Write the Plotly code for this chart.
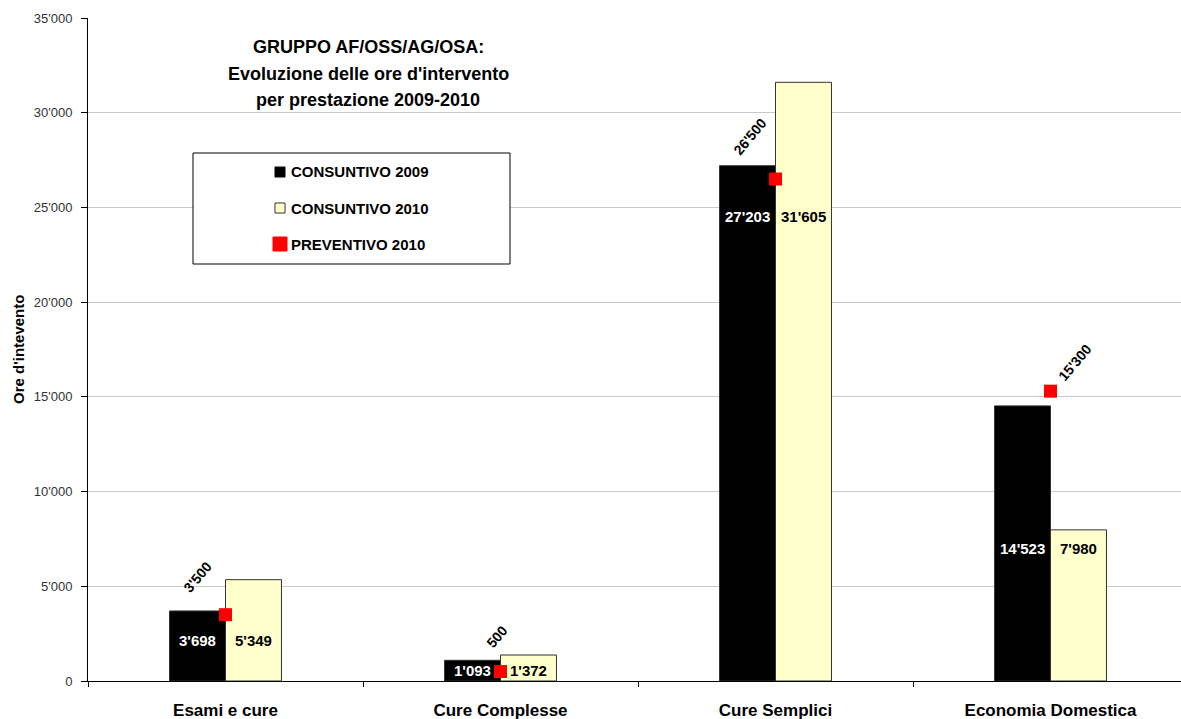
import plotly.graph_objects as go

categories = ["Esami e cure", "Cure Complesse", "Cure Semplici", "Economia Domestica"]
consuntivo_2009 = [3698, 1093, 27203, 14523]
consuntivo_2010 = [5349, 1372, 31605, 7980]
preventivo_2010 = [3500, 500, 26500, 15300]
series_names = ["CONSUNTIVO 2009", "CONSUNTIVO 2010", "PREVENTIVO 2010"]
title_lines = ["GRUPPO AF/OSS/AG/OSA:", "Evoluzione delle ore d'intervento", "per prestazione 2009-2010"]
y_title = "Ore d'intevento"

# layout / style helpers (not data)
W, H = 1181, 719
ML, MR, MT, MB = 88, 0, 18, 38
PW, PH = W - ML - MR, H - MT - MB
FONT = "Liberation Sans, Arial, sans-serif"
inner_label_y = [2120, 530, 24500, 7020]          # y position of in-bar labels
prev_label_shift = [(-28, 38), (-4, 35), (-26, 42), (24, 28)]


def px(x):
    return (x - ML) / PW


def py(y):
    return (H - MB - y) / PH


def fmt(v):
    return f"{v:,}".replace(",", "'")


fig = go.Figure()
fig.add_trace(go.Bar(x=categories, y=consuntivo_2009, name=series_names[0],
                     marker=dict(color="#000000", line=dict(color="#333333", width=1)),
                     showlegend=False))
fig.add_trace(go.Bar(x=categories, y=consuntivo_2010, name=series_names[1],
                     marker=dict(color="#FFFFCC", line=dict(color="#333333", width=1)),
                     showlegend=False))
fig.add_trace(go.Scatter(x=categories, y=preventivo_2010, name=series_names[2], mode="markers",
                         marker=dict(symbol="square", size=13, color="#FF0000", line=dict(width=0)),
                         showlegend=False))

ann = []
for i, c in enumerate(categories):
    ann.append(dict(x=c, y=inner_label_y[i], xref="x", yref="y", text=fmt(consuntivo_2009[i]),
                    showarrow=False, xshift=-28, font=dict(family=FONT, size=15, color="white", weight="bold")))
    ann.append(dict(x=c, y=inner_label_y[i], xref="x", yref="y", text=fmt(consuntivo_2010[i]),
                    showarrow=False, xshift=28, font=dict(family=FONT, size=15, color="black", weight="bold")))
    dx, dy = prev_label_shift[i]
    ann.append(dict(x=c, y=preventivo_2010[i], xref="x", yref="y", text=fmt(preventivo_2010[i]),
                    showarrow=False, xshift=dx, yshift=dy, textangle=-50,
                    font=dict(family=FONT, size=14, color="black", weight="bold")))

for k, (line, yy) in enumerate(zip(title_lines, [47, 74, 100])):
    ann.append(dict(x=px(368), y=py(yy), xref="paper", yref="paper", text=line, showarrow=False,
                    xanchor="center", yanchor="middle",
                    font=dict(family=FONT, size=18, color="black", weight="bold")))

ann.append(dict(x=px(18), y=py(350), xref="paper", yref="paper", text=y_title, showarrow=False,
                textangle=-90, xanchor="center", yanchor="middle",
                font=dict(family=FONT, size=15, color="black", weight="bold")))

shapes = [dict(type="rect", xref="paper", yref="paper", x0=px(193), x1=px(510), y0=py(264), y1=py(153),
               line=dict(color="black", width=1), fillcolor="white", layer="above")]
legend_items = [(series_names[0], 172, "#000000", "#000000", 10),
                (series_names[1], 208, "#FFFFCC", "#333333", 10),
                (series_names[2], 244, "#FF0000", "#FF0000", 14)]
for name, cy, fill, lc, s in legend_items:
    cx = 280
    shapes.append(dict(type="rect", xref="paper", yref="paper", x0=px(cx - s / 2), x1=px(cx + s / 2),
                       y0=py(cy + s / 2), y1=py(cy - s / 2), fillcolor=fill,
                       line=dict(color=lc, width=1), layer="above"))
    ann.append(dict(x=px(289), y=py(cy), xref="paper", yref="paper", text=name, showarrow=False,
                    xanchor="left", yanchor="middle",
                    font=dict(family=FONT, size=15, color="black", weight="bold")))

fig.update_layout(
    width=W, height=H, margin=dict(l=ML, r=MR, t=MT, b=MB),
    paper_bgcolor="white", plot_bgcolor="white",
    barmode="group", bargap=0.593, bargroupgap=0,
    separators=".'",
    annotations=ann, shapes=shapes,
    font=dict(family=FONT),
    xaxis=dict(type="category", range=[-0.5, 3.4745], showline=True, linecolor="black", linewidth=1,
               ticks="outside", tickson="boundaries", ticklen=5, tickcolor="black",
               showgrid=False, ticklabelstandoff=14,
               tickfont=dict(family=FONT, size=17, color="black", weight="bold")),
    yaxis=dict(range=[0, 35000], dtick=5000, tickformat=",d", showline=True, linecolor="black",
               linewidth=1, ticks="outside", ticklen=6, tickcolor="black", ticklabelstandoff=6,
               showgrid=True, gridcolor="#c8c8c8", gridwidth=1, zeroline=False,
               tickfont=dict(family=FONT, size=13, color="#333333")),
)

fig.write_html("out.html")
